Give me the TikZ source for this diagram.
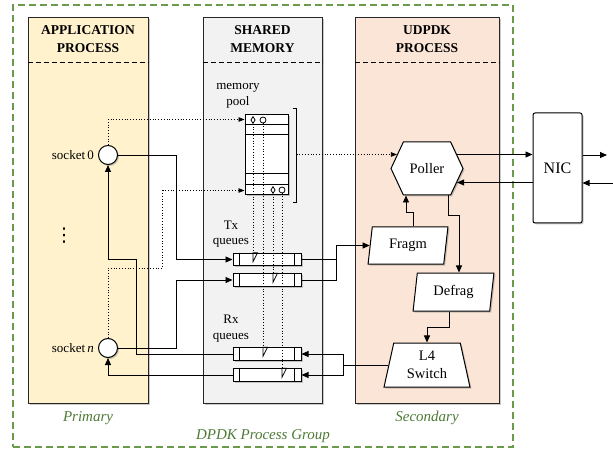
\documentclass[tikz,border=0pt]{standalone}
\usepackage{fontspec}
\setmainfont{Liberation Serif}
\newfontfamily\symfont{DejaVu Sans}
\usetikzlibrary{arrows.meta,shapes.geometric,shapes.symbols,shadows}
\pgfdeclarelayer{bg}
\pgfsetlayers{bg,main}
\definecolor{appfill}{HTML}{FFF2CC}
\definecolor{shmfill}{HTML}{F2F2F2}
\definecolor{udpfill}{HTML}{FBE5D6}
\definecolor{grpgreen}{HTML}{6A9A4A}
\definecolor{txtgreen}{HTML}{4E7A36}
\tikzset{
    shadowed/.style={drop shadow={shadow xshift=1.5pt, shadow yshift=-1.5pt, opacity=.35, fill=black!60}},
    procbox/.style={rectangle, draw=black!85, line width=1pt, inner sep=0pt, minimum width=#1, minimum height=385pt, shadowed},
    title/.style={align=center, inner sep=0pt, font=\fontsize{13.5}{18}\selectfont\bfseries},
    sepline/.style={dashed, dash pattern=on 5pt off 3pt, line width=1pt},
    sock/.style={circle, draw, line width=1pt, fill=white, minimum size=19pt, inner sep=0pt, shadowed},
    queue/.style={rectangle, draw, line width=1pt, fill=white, minimum width=68pt, minimum height=12.5pt, inner sep=0pt, shadowed},
    pool/.style={rectangle, draw, line width=1pt, fill=white, minimum width=43pt, minimum height=80pt, inner sep=0pt, shadowed},
    stage/.style={trapezium, trapezium stretches=true, draw, line width=1pt, fill=white, align=center, inner sep=0pt, font=\fontsize{14.5}{18}\selectfont, shadowed},
    hexa/.style={signal, signal to=west and east, signal pointer angle=130, draw, line width=1pt, fill=white, inner sep=0pt, minimum width=72pt, minimum height=53pt, font=\fontsize{14.5}{16}\selectfont, shadowed},
    nicbox/.style={rectangle, rounded corners=2pt, draw, line width=1pt, fill=white, minimum width=49pt, minimum height=110pt, inner sep=0pt, font=\fontsize{16}{18}\selectfont, shadowed},
    lbl/.style={align=center, inner sep=0pt, font=\fontsize{13}{15.5}\selectfont},
    grplbl/.style={inner sep=0pt, text=txtgreen, font=\fontsize{15}{17}\selectfont\itshape},
    arr/.style={line width=.9pt, -{Triangle[length=7pt,width=6pt]}},
    dotarr/.style={dotted, line width=.8pt, -{Triangle[length=6pt,width=4.5pt]}},
    ptr/.style={dotted, line width=.8pt},
    slotmark/.style={draw, fill=white, line width=.8pt, inner sep=0pt}
}

\begin{document}
\begin{tikzpicture}[x=1pt, y=-1pt]
        \useasboundingbox (0,0) rectangle (613,449);
        % containers
        \begin{pgfonlayer}{bg}
                \node (grp) [draw=grpgreen, line width=1.2pt, dash pattern=on 7pt off 4pt, minimum width=500pt, minimum height=442pt, inner sep=0pt] at (263,226) {};
                \node (app) [procbox=120pt, fill=appfill] at (88,210.5) {};
                \node (shm) [procbox=119pt, fill=shmfill] at (262.5,210.5) {};
                \node (udp) [procbox=144pt, fill=udpfill] at (427,210.5) {};
                \draw[sepline] ([yshift=-45pt]app.north west) -- ([yshift=-45pt]app.north east);
                \draw[sepline] ([yshift=-45pt]shm.north west) -- ([yshift=-45pt]shm.north east);
                \draw[sepline] ([yshift=-45pt]udp.north west) -- ([yshift=-45pt]udp.north east);
        \end{pgfonlayer}
        \node (apptitle) [title] at (88,39) {APPLICATION\\PROCESS};
        \node (shmtitle) [title] at (262.5,39) {SHARED\\MEMORY};
        \node (udptitle) [title] at (427,39) {UDPDK\\PROCESS};
        \node (prim) [grplbl] at (88,418) {Primary};
        \node (sec) [grplbl] at (427,418) {Secondary};
        \node (grptxt) [grplbl] at (263,436) {DPDK Process Group};

        % sockets
        \node (s0) [sock, label={[lbl, label distance=4pt]left:socket\,0}] at (108,155) {};
        \node (sn) [sock, label={[lbl, label distance=4pt]left:socket\,\textit{n}}] at (108,348) {};
        \node (dots) [inner sep=0pt, font=\symfont\fontsize{19}{19}\selectfont] at (64,236) {⋮};

        % shared memory
        \node (mplbl) [lbl] at (238,96) {memory\\pool};
        \node (mpool) [pool] at (266.5,155) {};
        \foreach \yy in {10,20,59,70}
                \draw[line width=1pt] ([yshift=-\yy pt]mpool.north west) -- ([yshift=-\yy pt]mpool.north east);
        \draw[line width=.9pt] ([xshift=4pt,yshift=6pt]mpool.north east) -- ([xshift=8pt,yshift=6pt]mpool.north east)
                -- ([xshift=8pt,yshift=-7pt]mpool.south east) -- ([xshift=4pt,yshift=-7pt]mpool.south east);
        \coordinate (brk) at ([xshift=8pt]mpool.east);
        \coordinate (mpt) at ([yshift=-5pt]mpool.north west);
        \coordinate (mpb) at ([yshift=5pt]mpool.south west);
        \node (d1) [slotmark, diamond, minimum width=4.5pt, minimum height=7pt] at (253,120) {};
        \node (c1) [slotmark, circle, minimum size=6pt] at (263,120) {};
        \node (d2) [slotmark, diamond, minimum width=4.5pt, minimum height=7pt] at (273,190) {};
        \node (c2) [slotmark, circle, minimum size=6pt] at (282,190) {};

        \node (txlbl) [lbl] at (231,234) {Tx\\queues};
        \node (tx1) [queue] at (267,259.5) {};
        \node (tx2) [queue] at (267,280) {};
        \node (rxlbl) [lbl] at (231,328.5) {Rx\\queues};
        \node (rx1) [queue] at (267,354) {};
        \node (rx2) [queue] at (267,375) {};
        \foreach \q in {tx1,tx2,rx1,rx2} {
                \draw[line width=1pt] ([xshift=7pt]\q.north west) -- ([xshift=7pt]\q.south west);
                \draw[line width=1pt] ([xshift=-7pt]\q.north east) -- ([xshift=-7pt]\q.south east);
        }
        \foreach \p/\q in {d1/tx1, c1/rx1, d2/tx2, c2/rx2} {
                \draw[ptr] (\p.south) -- (\p |- \q.north);
                \draw[line width=.8pt] (\p |- \q.north) -- ++(4.5,0) -- ++(-4.5,9) -- cycle;
        }

        % udpdk process
        \node (poller) [hexa] at (427,168.5) {Poller};
        \node (fragm) [stage, trapezium left angle=80, trapezium right angle=100, minimum width=80pt, minimum height=37pt] at (408,245.5) {Fragm};
        \node (defrag) [stage, trapezium left angle=80, trapezium right angle=100, minimum width=81pt, minimum height=38pt] at (453.5,292) {Defrag};
        \node (l4) [stage, trapezium left angle=78, trapezium right angle=78, minimum width=86pt, minimum height=44pt] at (427,365) {L4\\Switch};
        \node (nic) [nicbox] at (557.5,168) {NIC};
        \coordinate (netout) at (607,155);
        \coordinate (netin) at (613,183);

        % connectors
        \draw[dotarr] (s0.north) |- (mpt);
        \draw[dotarr] (sn.north) -- ++(0,-70) -| ([xshift=-82pt]mpb) -- (mpb);
        \draw[dotarr] (poller.155 -| brk) -- (poller.155);
        \draw[arr] (s0.east) -- ++(58.5,0) |- (tx1.west);
        \draw[arr] (sn.east) -- ++(58.5,0) |- (tx2.west);
        \draw[arr] (rx1.west) -- ++(-96,0) -- ++(0,-95) -| (s0.south);
        \draw[arr] (rx2.west) -| (sn.south);
        \draw[arr] (tx1.east) -- ++(35,0) coordinate (txj) |- (fragm.west);
        \draw[line width=.9pt] (tx2.east) -| (txj);
        \draw[arr] ([xshift=5pt]fragm.north) -- ++(0,-14) -| ([xshift=-21pt]poller.south);
        \draw[arr] ([xshift=21pt]poller.south) -- ++(0,20) -| ([xshift=5.5pt]defrag.north);
        \draw[arr] ([xshift=-4.5pt]defrag.south) -- ++(0,16) -| (l4.north);
        \draw[arr] (l4.west) -- ++(-44.5,0) coordinate (rxj) |- (rx1.east);
        \draw[arr] (rxj) |- (rx2.east);
        \draw[arr] (poller.25) -- (poller.25 -| nic.west);
        \draw[arr] (poller.-25 -| nic.west) -- (poller.-25);
        \draw[arr] (nic.east |- netout) -- (netout);
        \draw[arr] (netin) -- (nic.east |- netin);
\end{tikzpicture}
\end{document}
